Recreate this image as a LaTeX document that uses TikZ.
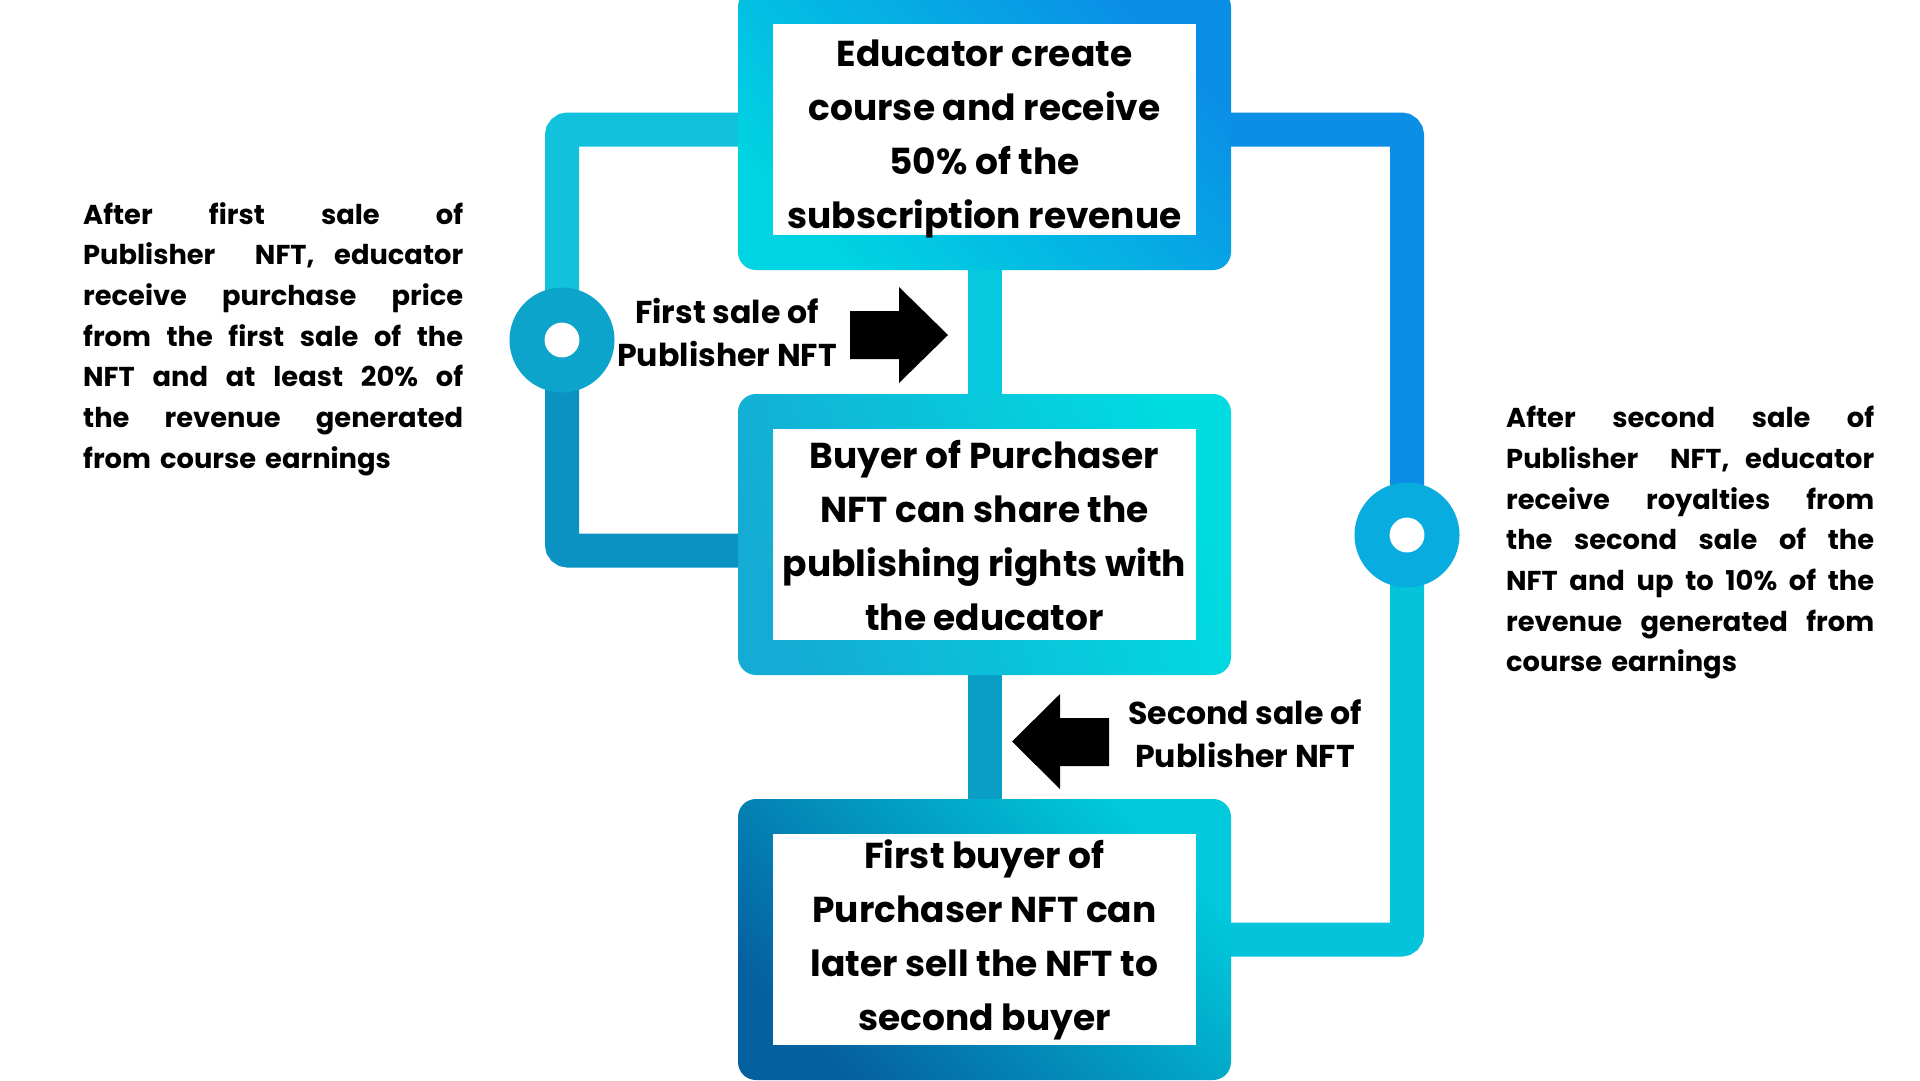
\documentclass[tikz,border=0pt]{standalone}
\usepackage{fontspec}
\setmainfont{Poppins}
\usetikzlibrary{backgrounds}

\definecolor{skyblue}{HTML}{0A8EE6}
\definecolor{aqua}{HTML}{00D4E2}
\definecolor{brightaqua}{HTML}{00DCE2}
\definecolor{seablue}{HTML}{14ACD4}
\definecolor{deepblue}{HTML}{0560A0}
\definecolor{lowaqua}{HTML}{00CADC}
\definecolor{loopcyan}{HTML}{12C2DC}
\definecolor{loopsea}{HTML}{0A92C2}
\definecolor{hubleft}{HTML}{0DA4CC}
\definecolor{hubright}{HTML}{08ACDE}
\definecolor{loopaqua}{HTML}{04C4DC}
\definecolor{stemcyan}{HTML}{06C8DE}
\definecolor{stemsea}{HTML}{0A9EC6}

\setlength{\fboxsep}{0pt}
\setlength{\parindent}{0pt}
\newcommand{\innerbox}[2][0pt]{\colorbox{white}{\parbox[c][211pt][c]{423pt}{\centering\vspace*{#1}#2}}}
\newcommand{\jline}[2]{\hbox to #1{#2}}

\begin{document}
\begin{tikzpicture}[x=1pt, y=-1pt,
  boxframe/.style={rounded corners=18pt, inner sep=35pt, outer sep=0pt,
    font=\fontsize{36}{54}\selectfont\bfseries},
  hub/.style={circle, fill=white, line width=35pt, minimum size=70pt, inner sep=0pt},
  link/.style={line width=34pt, rounded corners=6pt},
  sidetext/.style={anchor=north west, inner sep=0pt, align=left,
    font=\fontsize{27.3}{40.7}\selectfont\bfseries},
  salelabel/.style={inner sep=0pt, align=center,
    font=\fontsize{31.6}{43}\selectfont\bfseries}]
  \useasboundingbox (0,0) rectangle (1920,1080);
  % Boxes
  \node[boxframe, top color=skyblue, bottom color=aqua, shading angle=-45] (educ) at (984.5,129.5)
    {\innerbox[18pt]{Educator create\\course and receive\\50\% of the\\subscription revenue}};
  \node[boxframe, top color=seablue, bottom color=brightaqua, shading angle=110] (share) at (984.5,534.5)
    {\innerbox[2pt]{Buyer of Purchaser\\NFT can share the\\publishing rights with\\the educator}};
  \node[boxframe, top color=lowaqua, bottom color=deepblue, shading angle=-45] (resell) at (984.5,939.5)
    {\innerbox{First buyer of\\Purchaser NFT can\\later sell the NFT to\\second buyer}};
  % Hubs on the loops
  \node[hub, draw=hubleft] (lc) at (562,340) {};
  \node[hub, draw=hubright] (rc) at (1407,535) {};
  % Connectors (behind boxes and hubs)
  \begin{scope}[on background layer]
    \fill[white] (0,0) rectangle (1920,1080);
    \draw[link, stemcyan] (educ.center) -- (share.center);
    \draw[link, stemsea] (share.center) -- (resell.center);
    \draw[link, loopcyan] (educ.center) -| (lc.center);
    \draw[link, loopsea] (lc.center) |- ([yshift=-16pt]share.center);
    \draw[link, skyblue] (educ.center) -| (rc.center);
    \draw[link, loopaqua] (rc.center) |- (resell.center);
  \end{scope}
  % Sale labels and arrows
  \node[salelabel] (firstlabel) at (727,332) {First sale of\\Publisher NFT};
  \node[salelabel] (secondlabel) at (1245,734) {Second sale of\\Publisher NFT};
  \fill (850,311) -- (899,311) -- (899,287) -- (948,335) -- (899,383) -- (899,359) -- (850,359) -- cycle;
  \fill (1109,718) -- (1060,718) -- (1060,694) -- (1012,741.5) -- (1060,789) -- (1060,766) -- (1109,766) -- cycle;
  % Side notes
  \node[sidetext, text width=380pt] (firstnote) at (83,202) {%
    \jline{380pt}{After\hfill first\hfill sale\hfill of}
    \jline{380pt}{Publisher\hfill\hfill NFT,\hfill educator}
    \jline{380pt}{receive\hfill purchase\hfill price}
    \jline{380pt}{from\hfill the\hfill first\hfill sale\hfill of\hfill the}
    \jline{380pt}{NFT\hfill and\hfill at\hfill least\hfill 20\%\hfill of}
    \jline{380pt}{the\hfill revenue\hfill generated}
    \hbox{from course earnings}};
  \node[sidetext, text width=368pt] (secondnote) at (1506,406) {%
    \jline{368pt}{After\hfill second\hfill sale\hfill of}
    \jline{368pt}{Publisher\hfill\hfill NFT,\hfill educator}
    \jline{368pt}{receive\hfill royalties\hfill from}
    \jline{368pt}{the\hfill second\hfill sale\hfill of\hfill the}
    \jline{368pt}{NFT\hfill and\hfill up\hfill to\hfill 10\%\hfill of\hfill the}
    \jline{368pt}{revenue\hfill generated\hfill from}
    \hbox{course earnings}};
\end{tikzpicture}
\end{document}
